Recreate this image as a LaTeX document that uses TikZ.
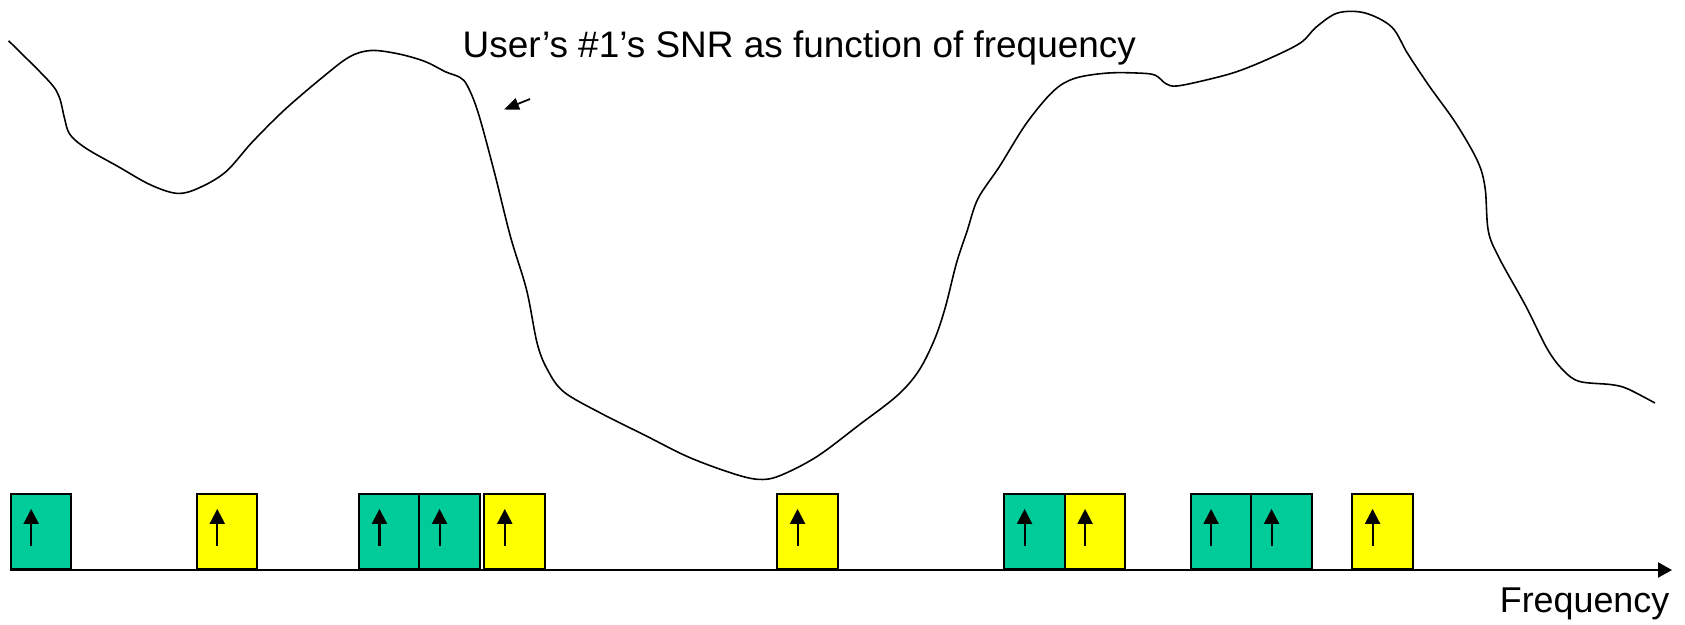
\documentclass[tikz,border=0pt]{standalone}
\usepackage{fontspec}
\setmainfont{Liberation Sans}
\usetikzlibrary{arrows.meta}
\definecolor{chgreen}{RGB}{0,204,153}
\definecolor{chyellow}{RGB}{255,255,0}

\begin{document}
\begin{tikzpicture}[
  x=0.01cm, y=-0.01cm,
  every node/.style={font=\fontsize{10.5}{12}\selectfont},
  chan/.style={rectangle, draw=black, line width=0.6pt, minimum width=0.605cm, minimum height=0.75cm, inner sep=0pt, anchor=south west,
    path picture={\draw[line width=0.6pt, -{Triangle[length=0.15cm, width=0.15cm]}] ([shift={(0.205cm,0.23cm)}]path picture bounding box.south west) -- ++(0,0.37cm);}},
  good/.style={chan, fill=chgreen},
  fair/.style={chan, fill=chyellow},
  snr/.style={line width=0.45pt},
  axis/.style={-{Triangle[length=0.14cm, width=0.15cm]}, line width=0.6pt},
  line/.style={-{Triangle[length=0.15cm, width=0.12cm]}, line width=0.5pt}
]
\useasboundingbox (0,0) rectangle (1685,624);

\draw[snr] plot[smooth, tension=0.55] coordinates {
  (8.6,40.8) (48.4,80.6) (59.1,96.7) (64.5,118.2) (69.8,134.3) (86,148.3)
  (118.2,166.6) (150.4,184.8) (177.3,193.4) (198.8,188) (225.7,171.9)
  (252.5,141.8) (284.8,109.6) (322.4,77.4) (349.2,57) (370.7,50.5)
  (397.6,53.7) (424.5,61.3) (446,72) (460,77.4) (467.5,86) (478.2,112.8)
  (494.3,172) (510.4,236.4) (526.6,290) (537.3,343.9) (548,370.7)
  (564.2,392.2) (601.8,413.7) (644.8,435.2) (687.7,456.7) (730.7,472.8)
  (757.6,479.3) (779,476) (816.7,456.7) (859.7,424.5) (897.3,395.5)
  (918.8,370.7) (934.9,338.5) (945.6,306.3) (956.4,263.3) (967.1,231)
  (977.9,198.8) (999.4,166.6) (1026.2,123.6) (1053.1,91.3) (1074.6,78.4)
  (1106.8,73.1) (1139,73.1) (1155.2,75.2) (1166,83.8) (1176.7,86)
  (1203.6,80.6) (1235.8,72) (1268,59.1) (1300.3,43) (1316.4,26.9)
  (1337.9,12.9) (1364.7,12.9) (1391.6,26.9) (1407.7,53.7) (1429.2,86)
  (1456.1,123.6) (1477.6,161.2) (1485.1,188) (1488.3,231) (1499.1,257.9)
  (1525.9,306.3) (1547.4,349.2) (1563.6,370.7) (1579.7,381.5) (1612,384.7)
  (1628,389) (1654.9,403)};

\node[anchor=base west, inner sep=0pt] (title) at (462,57) {User’s \#1’s SNR as function of frequency};
\coordinate (ptail) at (530,99);
\coordinate (phead) at (504,109.5);
\draw[line] (ptail) -- (phead);

\node[good] (c1) at (9.6,570) {};
\node[fair] (c2) at (195.7,570) {};
\node[good] (c3) at (357.9,570) {};
\node[good] (c4) at (418,570) {};
\node[fair] (c5) at (483.2,570) {};
\node[fair] (c6) at (776,570) {};
\node[good] (c7) at (1003,570) {};
\node[fair] (c8) at (1063.5,570) {};
\node[good] (c9) at (1189.5,570) {};
\node[good] (c10) at (1250,570) {};
\node[fair] (c11) at (1351,570) {};

\coordinate (fend) at (1672,570);
\draw[axis] (c1.south west) -- (fend);
\node[anchor=base east, inner sep=0pt, font=\fontsize{10.2}{12}\selectfont] (flabel) at (1670,612.5) {Frequency};
\end{tikzpicture}
\end{document}
